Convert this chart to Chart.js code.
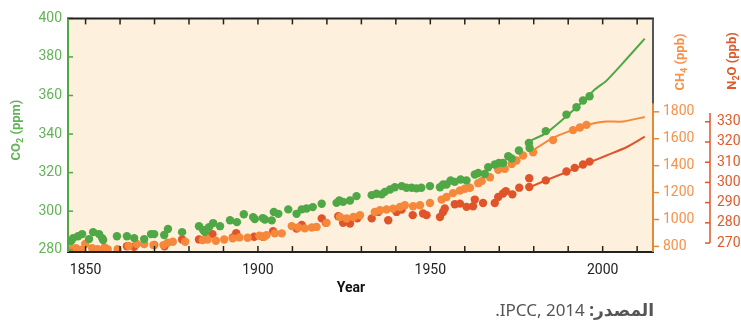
<!DOCTYPE html>
<html lang="ar">
<head>
<meta charset="UTF-8">
<title>CO2 CH4 N2O</title>
<script src="https://cdn.jsdelivr.net/npm/chart.js@4.4.0/dist/chart.umd.min.js"></script>
<style>
  body { margin: 0; background: #fff; }
  #wrap { position: relative; width: 741px; height: 329px; }
  #source {
    position: absolute; top: 298px; right: 87px;
    font-family: "Noto Sans", "DejaVu Sans", sans-serif;
    font-size: 17px; color: #555; direction: rtl; white-space: nowrap;
  }
</style>
</head>
<body>
<div id="wrap">
  <canvas id="myChart" width="741" height="300"></canvas>
  <div id="source"><b>المصدر:</b> IPCC, 2014.</div>
</div>
<script>
// ---- data ----
const co2Years = [1845.8,1846.4,1847.8,1849.0,1851.0,1852.2,1853.9,1854.8,1855.1,1859.1,1862.0,1864.1,1867.0,1869.0,1869.9,1872.8,1873.9,1878.0,1882.9,1884.1,1884.6,1885.8,1887.0,1889.0,1891.9,1893.9,1895.9,1898.6,1899.1,1901.4,1902.0,1904.0,1904.6,1905.9,1908.8,1911.2,1912.7,1914.1,1915.9,1918.5,1922.8,1923.6,1924.7,1926.7,1928.6,1933.0,1934.4,1935.9,1936.8,1938.3,1939.7,1941.7,1943.1,1944.6,1946.0,1947.4,1949.9,1952.8,1953.7,1954.7,1955.9,1957.1,1958.8,1960.5,1962.9,1963.9,1965.8,1966.8,1968.7,1969.9,1971.1,1972.6,1973.6,1975.7,1978.6,1978.8,1983.5,1989.5,1992.4,1994.3,1996.2];
const co2Values = [284.5,286.0,287.0,288.1,285.5,289.1,288.1,286.0,285.0,287.0,287.0,286.0,285.5,288.1,288.1,287.6,290.7,289.1,292.2,290.2,289.1,291.7,293.8,292.2,295.3,294.3,298.4,296.9,295.9,296.4,295.7,295.2,299.6,298.6,300.9,298.6,300.9,301.4,302.1,303.8,304.3,305.5,304.8,305.5,307.8,308.3,309.0,308.7,310.0,311.2,312.4,313.0,312.1,312.1,311.8,312.1,313.0,312.4,313.8,313.8,315.9,315.2,316.4,315.9,319.0,319.8,319.3,322.8,324.2,325.0,325.0,328.5,327.3,331.5,335.4,332.8,341.5,350.1,353.9,357.4,359.6];
const co2LineYears = [1978.8,1983.7,1989.5,1994.3,1997.7,2001.1,2005.0,2012.2];
const co2LineValues = [336.3,340.6,349.2,357.0,363.1,367.7,375.1,389.5];

const ch4Years = [1845.8,1847.2,1848.7,1849.9,1851.9,1853.5,1855.5,1856.4,1859.3,1862.5,1864.9,1867.0,1869.7,1872.6,1873.8,1875.3,1878.9,1884.0,1885.4,1887.8,1890.2,1892.7,1894.6,1897.0,1900.4,1901.8,1902.5,1904.9,1906.9,1909.8,1911.7,1913.6,1915.6,1917.0,1919.9,1923.8,1925.7,1927.7,1929.6,1933.9,1935.4,1937.3,1939.2,1941.2,1942.6,1945.0,1947.0,1949.9,1953.3,1954.7,1956.6,1958.6,1960.0,1961.5,1963.9,1964.9,1967.3,1969.7,1971.6,1973.6,1975.0,1976.9,1979.8,1985.6,1991.4,1993.4,1995.3];
const ch4Values = [779,786,773,818,786,779,793,779,779,803,818,818,810,810,827,835,835,847,852,842,852,860,867,864,879,872,884,897,897,951,941,934,941,945,975,1019,1007,1019,1032,1056,1069,1074,1081,1093,1106,1098,1106,1123,1148,1167,1196,1216,1229,1236,1270,1285,1314,1369,1376,1413,1438,1475,1499,1590,1664,1683,1703];
const ch4LineYears = [1979.8,1985.6,1991.4,1997.2,2001.0,2006.0,2012.2];
const ch4LineValues = [1515,1607,1666,1713,1728,1728,1762];

const n2oYears = [1845.8,1854.9,1862.0,1864.1,1869.9,1872.9,1878.0,1882.9,1886.8,1892.7,1893.7,1898.9,1901.4,1904.4,1911.2,1912.7,1918.5,1919.7,1923.3,1924.7,1926.7,1928.8,1933.0,1934.9,1937.8,1940.2,1941.7,1944.9,1947.9,1948.9,1952.8,1953.7,1954.2,1957.1,1958.6,1960.5,1962.4,1962.9,1965.3,1968.7,1969.7,1971.1,1971.9,1973.8,1975.8,1978.7,1978.7,1983.5,1989.5,1991.9,1994.3,1996.2];
const n2oValues = [266.6,266.3,268.4,268.2,269.0,268.4,271.8,271.8,274.4,272.8,274.9,273.1,273.1,275.9,277.2,278.9,282.2,280.0,283.3,280.0,279.7,282.2,282.2,285.4,281.3,285.4,286.6,283.8,284.6,283.8,282.9,285.4,287.1,289.2,289.5,287.9,288.2,291.5,289.8,289.8,292.8,294.5,295.7,294.1,297.4,297.7,302.1,301.0,305.4,307.2,308.9,310.3];
const n2oLineYears = [1978.9,1983.5,1989.5,1996.3,2001.1,2006.9,2012.2];
const n2oLineValues = [297.7,301.0,305.1,310.0,313.3,317.4,322.6];

const yearTicks = [1850, 1900, 1950, 2000];
const co2Ticks = [280, 300, 320, 340, 360, 380, 400];
const ch4Ticks = [800, 1000, 1200, 1400, 1600, 1800];
const n2oTicks = [270, 280, 290, 300, 310, 320, 330];

// ---- styling ----
const green = '#4fa845', greenText = '#62b455';
const orange = '#f5883a', orangeText = '#f7914a', orangeAxis = '#e08a3c';
const red = '#e0542a', redText = '#e05a2c';
const bg = '#fdf0dd';
const family = 'Roboto, "Liberation Sans", sans-serif';

function pts(xs, ys) { return xs.map((x, i) => ({ x: x, y: ys[i] })); }
function setTicks(list) { return s => { s.ticks = list.map(v => ({ value: v })); }; }
const plain = v => String(v);

function line(ctx, x1, y1, x2, y2, color, w) {
  ctx.beginPath();
  ctx.strokeStyle = color;
  ctx.lineWidth = w;
  ctx.moveTo(x1, y1);
  ctx.lineTo(x2, y2);
  ctx.stroke();
}

// vertical title with a subscript part
function vTitle(ctx, cx, cy, parts, color) {
  ctx.save();
  ctx.translate(cx, cy);
  ctx.rotate(-Math.PI / 2);
  ctx.fillStyle = color;
  ctx.textBaseline = 'middle';
  ctx.textAlign = 'left';
  let total = 0;
  parts.forEach(p => {
    ctx.font = p.sub ? 'bold 9px ' + family : 'bold 13px ' + family;
    total += ctx.measureText(p.t).width;
  });
  let x = -total / 2;
  parts.forEach(p => {
    ctx.font = p.sub ? 'bold 9px ' + family : 'bold 13px ' + family;
    ctx.fillText(p.t, x, p.sub ? 4 : 0);
    x += ctx.measureText(p.t).width;
  });
  ctx.restore();
}

const decor = {
  id: 'decor',
  beforeDraw(chart) {
    const { ctx, chartArea: a } = chart;
    ctx.save();
    ctx.fillStyle = bg;
    ctx.fillRect(a.left, a.top, a.right - a.left, a.bottom - a.top);
    ctx.restore();
  },
  afterDatasetsDraw(chart) {
    const { ctx, chartArea: a, scales } = chart;
    const sx = scales.x, sc = scales.y, sm = scales.yCH4, sn = scales.yN2O;
    ctx.save();
    // x tick marks, inside, top and bottom
    for (let yr = 1850; yr <= 2010; yr += 10) {
      const px = sx.getPixelForValue(yr);
      line(ctx, px, a.top, px, a.top + 6, '#222', 1.5);
      line(ctx, px, a.bottom - 6, px, a.bottom, '#222', 1.5);
    }
    // CO2 ticks inside
    co2Ticks.forEach(v => {
      const py = sc.getPixelForValue(v);
      line(ctx, a.left, py, a.left + 5, py, green, 1.5);
    });
    // frame
    line(ctx, a.left - 1, a.top, a.right + 1, a.top, '#222', 2);
    line(ctx, a.left - 1, a.bottom, a.right + 1, a.bottom, '#222', 2);
    line(ctx, a.left, a.top, a.left, a.bottom, green, 2);
    const ch4Top = sm.getPixelForValue(1860);
    line(ctx, a.right, a.top, a.right, ch4Top, '#555', 2);
    line(ctx, a.right, ch4Top, a.right, a.bottom, orangeAxis, 2);
    // CH4 ticks outside
    ch4Ticks.forEach(v => {
      const py = sm.getPixelForValue(v);
      line(ctx, a.right, py, a.right + 6, py, orangeAxis, 1.5);
    });
    // N2O separate axis
    const nx = sn.left + 2;
    line(ctx, nx, sn.getPixelForValue(270), nx, sn.getPixelForValue(334.4), red, 1.5);
    n2oTicks.forEach(v => {
      const py = sn.getPixelForValue(v);
      line(ctx, nx - 5, py, nx, py, red, 1.5);
    });
    // titles
    vTitle(ctx, 17, 130, [{ t: 'CO' }, { t: '2', sub: true }, { t: ' (ppm)' }], greenText);
    vTitle(ctx, 681, 62, [{ t: 'CH' }, { t: '4', sub: true }, { t: ' (ppb)' }], orangeText);
    vTitle(ctx, 733, 61, [{ t: 'N' }, { t: '2', sub: true }, { t: 'O (ppb)' }], redText);
    ctx.fillStyle = '#111';
    ctx.font = 'bold 14px ' + family;
    ctx.textAlign = 'center';
    ctx.textBaseline = 'middle';
    ctx.fillText('Year', 351, 288);
    ctx.restore();
  }
};

const dot = { type: 'scatter', pointRadius: 4.2, pointBorderWidth: 0, showLine: false };
const trend = { type: 'line', pointRadius: 0, borderWidth: 2, fill: false, tension: 0.2 };

const ctx = document.getElementById('myChart').getContext('2d');
const myChart = new Chart(ctx, {
  type: 'scatter',
  data: {
    datasets: [
      Object.assign({ label: 'CO2', data: pts(co2Years, co2Values), backgroundColor: green, yAxisID: 'y', order: 1 }, dot),
      Object.assign({ label: 'CO2 line', data: pts(co2LineYears, co2LineValues), borderColor: green, yAxisID: 'y', order: 1 }, trend),
      Object.assign({ label: 'CH4', data: pts(ch4Years, ch4Values), backgroundColor: orange, yAxisID: 'yCH4', order: 2 }, dot),
      Object.assign({ label: 'CH4 line', data: pts(ch4LineYears, ch4LineValues), borderColor: orange, yAxisID: 'yCH4', order: 2 }, trend),
      Object.assign({ label: 'N2O', data: pts(n2oYears, n2oValues), backgroundColor: red, yAxisID: 'yN2O', order: 3 }, dot),
      Object.assign({ label: 'N2O line', data: pts(n2oLineYears, n2oLineValues), borderColor: red, yAxisID: 'yN2O', order: 3 }, trend)
    ]
  },
  options: {
    responsive: false,
    animation: false,
    layout: { padding: { top: 17, left: 0, right: 0, bottom: 0 } },
    plugins: { legend: { display: false }, tooltip: { enabled: false } },
    scales: {
      x: {
        type: 'linear', position: 'bottom', min: 1844.9, max: 2014.6,
        afterBuildTicks: setTicks(yearTicks),
        afterFit: s => { s.height = 48; },
        grid: { display: false, drawTicks: false }, border: { display: false },
        ticks: { color: '#222', font: { family: family, size: 14 }, padding: 10, maxRotation: 0, autoSkip: false, callback: plain }
      },
      y: {
        position: 'left', min: 278.8, max: 400,
        afterBuildTicks: setTicks(co2Ticks),
        afterFit: s => { s.width = 68; },
        grid: { display: false, drawTicks: false }, border: { display: false },
        ticks: { color: greenText, font: { family: family, size: 14 }, padding: 6, callback: plain }
      },
      yCH4: {
        position: 'right', weight: 0, min: 758.6, max: 2494,
        afterBuildTicks: setTicks(ch4Ticks),
        afterFit: s => { s.width = 55; },
        grid: { display: false, drawTicks: false }, border: { display: false },
        ticks: { color: orangeText, font: { family: family, size: 14 }, padding: 10, callback: plain }
      },
      yN2O: {
        position: 'right', weight: 1, min: 265.57, max: 381.15,
        afterBuildTicks: setTicks(n2oTicks),
        afterFit: s => { s.width = 33; },
        grid: { display: false, drawTicks: false }, border: { display: false },
        ticks: { color: redText, font: { family: family, size: 14 }, padding: 9, callback: plain }
      }
    }
  },
  plugins: [decor]
});
</script>
</body>
</html>
